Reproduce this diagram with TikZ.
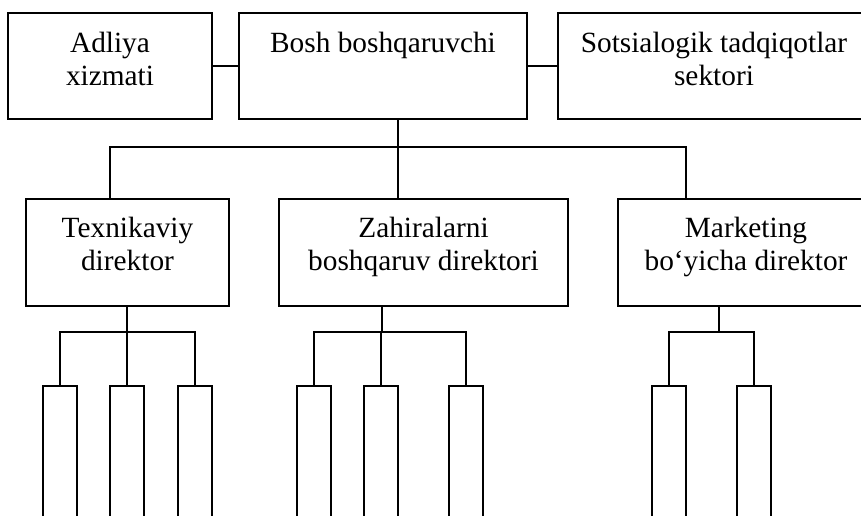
\documentclass[tikz,border=0pt]{standalone}
\usepackage{fontspec}
\setmainfont{Liberation Serif}
\begin{document}
\begin{tikzpicture}[x=0.75pt,y=-0.75pt,
  box/.style={draw,line width=1.5pt,rectangle,inner sep=0pt},
  unit/.style={box,minimum width=34*0.75pt,minimum height=150*0.75pt,anchor=north},
  lbl/.style={anchor=base,inner sep=0pt,font=\fontsize{22pt}{24.75pt}\selectfont},
  link/.style={line width=1.5pt}]
\useasboundingbox (0,0) rectangle (861,515);
\clip (0,0) rectangle (861,515);

% top row
\node[box,minimum width=204*0.75pt,minimum height=106*0.75pt] (adl) at (110,66) {};
\node[box,minimum width=288*0.75pt,minimum height=106*0.75pt] (bosh) at (383,66) {};
\node[box,minimum width=316*0.75pt,minimum height=106*0.75pt] (sots) at (716,66) {};
\node[lbl] (adlA) at (110,52) {Adliya};
\node[lbl] (adlB) at (110,85) {xizmati};
\node[lbl] (boshA) at (383,52) {Bosh boshqaruvchi};
\node[lbl] (sotsA) at (714,52) {Sotsialogik tadqiqotlar};
\node[lbl] (sotsB) at (714,85) {sektori};

\draw[link] (adl.east) -- (bosh.west);
\draw[link] (bosh.east) -- (sots.west);

% directors
\node[box,minimum width=203*0.75pt,minimum height=107*0.75pt] (tex) at (127.5,252.5) {};
\node[box,minimum width=289*0.75pt,minimum height=107*0.75pt] (zah) at (423.5,252.5) {};
\node[box,minimum width=256*0.75pt,minimum height=107*0.75pt] (mar) at (746,252.5) {};
\node[lbl] (texA) at (127.5,237) {Texnikaviy};
\node[lbl] (texB) at (127.5,270) {direktor};
\node[lbl] (zahA) at (423.5,237) {Zahiralarni};
\node[lbl] (zahB) at (423.5,270) {boshqaruv direktori};
\node[lbl] (marA) at (746,237) {Marketing};
\node[lbl] (marB) at (746,270) {bo‘yicha direktor};

\coordinate (busTop) at (398,147);
\draw[link] (bosh.south -| busTop) -- (busTop);
\draw[link] (tex.north -| 110,0) |- (busTop) -| (mar.north -| 686,0);
\draw[link] (busTop) -- (zah.north -| busTop);

% units under each director
\foreach \n/\x in {t1/60,t2/127,t3/195,z1/314,z2/381,z3/466,m1/669,m2/754}
  \node[unit] (\n) at (\x,385) {};

\coordinate (tbus) at (127,332);
\coordinate (zbus) at (382,332);
\coordinate (mbus) at (719,332);
\draw[link] (tex.south -| tbus) -- (tbus);
\draw[link] (t1.north) |- (tbus) -| (t3.north);
\draw[link] (tbus) -- (t2.north);
\draw[link] (zah.south -| zbus) -- (zbus);
\draw[link] (z1.north) |- (zbus) -| (z3.north);
\draw[link] (zbus -| z2.north) -- (z2.north);
\draw[link] (mar.south -| mbus) -- (mbus);
\draw[link] (m1.north) |- (mbus) -| (m2.north);
\end{tikzpicture}
\end{document}
